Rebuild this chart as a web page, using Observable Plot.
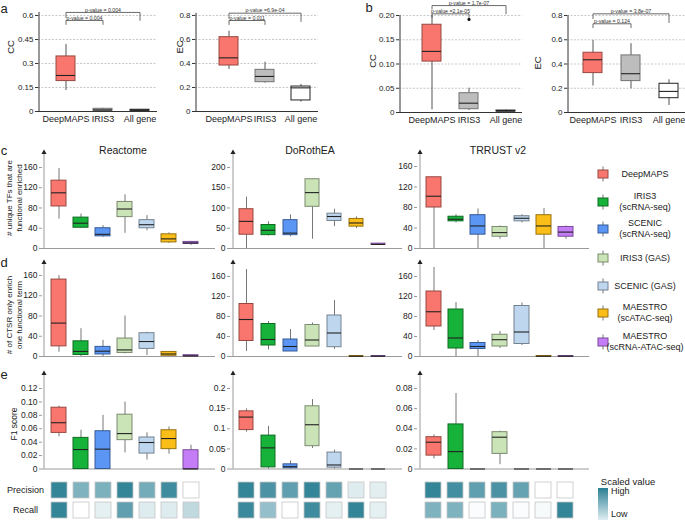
<!DOCTYPE html>
<html><head><meta charset="utf-8">
<script src="https://cdn.jsdelivr.net/npm/d3@7"></script>
<script src="https://cdn.jsdelivr.net/npm/@observablehq/plot@0.6"></script>
<style>
body{margin:0;background:#fff;font-family:"Liberation Sans",Arial,Helvetica,sans-serif;}
#fig{position:relative;width:685px;height:520px;overflow:hidden;background:#fff;}
.box{position:absolute;}
.t{position:absolute;white-space:nowrap;color:#222;text-align:center;transform:translate(-50%,-50%);}
</style></head><body><div id="fig"></div>
<script>
// ---------------- DATA ----------------
const methods = ["DeepMAPS","IRIS3 (scRNA-seq)","SCENIC (scRNA-seq)","IRIS3 (GAS)","SCENIC (GAS)","MAESTRO (scATAC-seq)","MAESTRO (scRNA-ATAC-seq)"];
const methodColors = ["#f8766d","#17b23a","#5b96f4","#cbe4b7","#bfd7ee","#fbbd17","#c57cf7"];
const legendLines = [["DeepMAPS"],["IRIS3","(scRNA-seq)"],["SCENIC","(scRNA-seq)"],["IRIS3 (GAS)"],["SCENIC (GAS)"],["MAESTRO","(scATAC-seq)"],["MAESTRO","(scRNA-ATAC-seq)"]];
const databases = ["Reactome","DoRothEA","TRRUST v2"];
const abGroups = ["DeepMAPS","IRIS3","All gene"];
const abColors = ["#f8766d","#bdbdbd","#ffffff"];
const metrics = ["Precision","Recall"];

// box stats: [min, q1, median, q3, max]
const aCC = [[0.131,0.19,0.225,0.344,0.419],[0.002,0.004,0.01,0.017,0.02],[0.002,0.004,0.008,0.011,0.012]];
const aEC = [[0.35,0.383,0.447,0.619,0.669],[0.236,0.244,0.292,0.347,0.411],[0.078,0.092,0.197,0.208,0.225]];
const bCC = [[0.0055,0.105,0.126,0.181,0.2],[0.004,0.0068,0.0192,0.0398,0.05],[0.001,0.002,0.003,0.004,0.005]];
const bCCOutliers = [{group:"IRIS3", value:0.192}];
const bEC = [[0.218,0.325,0.435,0.493,0.595],[0.196,0.259,0.32,0.471,0.568],[0.058,0.118,0.174,0.237,0.27]];
const aCCTests = [{from:0,to:2,label:"p-value = 0.004"},{from:0,to:1,label:"p-value = 0.004"}];
const aECTests = [{from:0,to:2,label:"p-value =6.9e-04"},{from:0,to:1,label:"p-value = 0.011"}];
const bCCTests = [{from:0,to:2,label:"p-value = 1.7e-07"},{from:0,to:1,label:"p-value =2.1e-05"}];
const bECTests = [{from:0,to:2,label:"p-value = 3.8e-07"},{from:0,to:1,label:"p-value = 0.124"}];

const cReactome = [[58,83,110,134,158],[40,41,50,61,68],[22,24,28,40,45],[30,62,78,92,106],[35,40,47,56,65],[10,12,19,28,31],[6,9,11,13,14]];
const cDoRothEA = [[0,34,67,97,127],[31,33,45,58,66],[29,33,38,70,83],[23,103,138,171,171],[54,68,79,86,97],[49,54,63,73,78],[8,9,10,12,13]];
const cTRRUST = [[0,80,102,139,139],[50,53,57,62,66],[0,27,44,65,77],[18,23,31,42,44],[50,53,59,63,66],[0,27,44,65,78],[18,23,32,42,44]];
const dReactome = [[8.5,20,66,152,160],[0,3,10,30,55],[0,4,10.5,19,32],[5,7,13,35.5,80],[2,15,29.6,46,48],[0,1.4,5,9,10],[0,0.5,1,2.5,3]];
const dDoRothEA = [[10,31,74,105,174],[13,22,34,65,70],[10,10,20,34,54],[20,20,33,63,67],[14,18.6,47,82,112],[0,0,0.5,1,1],[0,0,0.5,1,1]];
const dTRRUST = [[52,60,89.5,130,178],[0,16,37,94,108],[0,15,20,27,31.6],[16,20,33.6,43.5,50],[22,25,49,101,107],[0,0,0.5,1,1],[0,0,0.5,1,1]];
const eReactome = [[0.048,0.0538,0.069,0.0914,0.0938],[0,0,0.029,0.0464,0.0578],[0,0,0.0296,0.0563,0.08],[0.024,0.043,0.0528,0.081,0.0998],[0.0133,0.023,0.0395,0.047,0.054],[0.0222,0.0296,0.0454,0.0578,0.0627],[0,0,0,0.028,0.0355]];
const eDoRothEA = [[0.0917,0.0967,0.129,0.1433,0.149],[0,0.004,0.0525,0.083,0.106],[0,0.0017,0.0058,0.0116,0.02],[0.051,0.0567,0.11,0.1558,0.1725],[0,0.0033,0.01,0.0408,0.047],[0,0,0,0,0],[0,0,0,0,0]];
const eTRRUST = [[0.01,0.0133,0.0266,0.0316,0.034],[0,0,0.0173,0.0443,0.075],[0,0,0,0,0],[0.0043,0.015,0.0316,0.0366,0.0376],[0,0,0,0,0],[0,0,0,0,0],[0,0,0,0,0]];

const precisionReactome = [0.95,0.6,0.62,0.95,0.65,0.9,0.0];
const recallReactome    = [0.95,0.0,0.12,0.75,0.15,0.15,0.3];
const precisionDoRothEA = [0.95,0.85,0.75,0.95,0.72,0.15,0.13];
const recallDoRothEA    = [0.92,0.5,0.0,0.9,0.12,0.95,0.12];
const precisionTRRUST   = [0.95,0.88,0.75,0.85,0.72,0.0,0.0];
const recallTRRUST      = [0.6,0.6,0.02,0.62,0.02,0.04,0.95];

// ---------------- LAYOUT ----------------
const fig = document.getElementById("fig");
const svgStyle = "overflow:visible;background:transparent;font-family:'Liberation Sans',Arial,Helvetica,sans-serif;font-size:8px;color:#222";
const heatLow = "#ffffff", heatHigh = "#2a7f94";
const fmtTrim = d => String(+(+d).toFixed(6));
const fmt2 = d => d === 0 ? "0" : d3.format(".2f")(d);

function place(node, left, top){
  const d = document.createElement("div");
  d.className = "box";
  d.style.left = left + "px"; d.style.top = top + "px";
  d.appendChild(node); fig.appendChild(d); return d;
}
function text(html, x, y, opts={}){
  const d = document.createElement("div");
  d.className = "t";
  d.innerHTML = html;
  d.style.left = x + "px"; d.style.top = y + "px";
  d.style.fontSize = (opts.size || 9) + "px";
  if (opts.lh) d.style.lineHeight = opts.lh + "px";
  if (opts.rotate) d.style.transform = "translate(-50%,-50%) rotate(-90deg)";
  if (opts.align === "left") { d.style.transform = "translate(0,-50%)"; d.style.textAlign = "left"; }
  fig.appendChild(d); return d;
}

function boxPanel(o){
  const width = o.right - o.axisX, height = o.zero - o.top;
  const n = o.cats.length;
  const r0 = o.c0 - o.step/2 - o.axisX;
  const pi = 1 - o.bw/o.step;
  const rows = o.stats.map((s,i)=>({cat:o.cats[i], min:s[0], q1:s[1], med:s[2], q3:s[3], max:s[4],
    fill:o.colors[i], stroke: o.colors[i]==="#ffffff" ? "#222" : d3.color(o.colors[i]).darker(1.4).formatHex()}));
  const dxAxis = -(r0 + o.step/2);
  const marks = [];
  if (o.grid) marks.push(Plot.ruleY(o.ticks.filter(t=>t>0), {stroke:"#b0b0b0", strokeWidth:0.7, strokeDasharray:"2,1.5"}));
  marks.push(Plot.ruleY([0], {stroke:o.axisColor, strokeWidth:1}));
  marks.push(Plot.ruleX([o.cats[0]], {x:d=>d, y1:0, y2:o.axisTop ?? o.domainTop, dx:dxAxis, stroke:o.axisColor, strokeWidth:1}));
  if (o.arrow) marks.push(Plot.dot([o.cats[0]], {x:d=>d, y:o.domainTop, dx:dxAxis, dy:1, symbol:"triangle", r:1.9, fill:"#222", stroke:"none"}));
  marks.push(Plot.ruleX(rows, {x:"cat", y1:"min", y2:"max", stroke:o.whisker, strokeWidth:1}));
  marks.push(Plot.barY(rows, {x:"cat", y1:"q1", y2:"q3", fill:"fill", stroke:"stroke", strokeWidth:1}));
  marks.push(Plot.tickY(rows, {x:"cat", y:"med", stroke:"#222", strokeWidth:1.1}));
  if (o.outliers) marks.push(Plot.dot(o.outliers, {x:"group", y:"value", r:1.6, fill:"#111", stroke:"none"}));
  if (o.tests) o.tests.forEach((b,k)=>{
    const g = o.brackets[k];
    const pts = [{x:o.cats[b.from], y:g.l},{x:o.cats[b.from], y:g.h},{x:o.cats[b.to], y:g.h},{x:o.cats[b.to], y:g.r}];
    marks.push(Plot.line(pts, {x:"x", y:"y", stroke:"#444", strokeWidth:0.8}));
    const mid = (b.from + b.to)/2;
    marks.push(Plot.text([b.label], {x:()=>o.cats[Math.floor(mid)], y:g.h, dx:(mid%1)*o.step, dy:-0.8,
      lineAnchor:"bottom", fontSize:5.2, fill:"#333", text:d=>d}));
  });
  marks.push(Plot.axisY({ticks:o.ticks, tickFormat:o.fmt || fmtTrim, tickSize:3, tickPadding:2, fontSize:o.tickFont, label:null, stroke:o.axisColor}));
  if (o.xLabels) marks.push(Plot.axisX({tickSize:0, tickPadding:4.5, fontSize:9, label:null}));
  const p = Plot.plot({
    width, height, marginTop:0, marginRight:0, marginBottom:0, marginLeft:0,
    style: svgStyle,
    x: {type:"band", domain:o.cats, range:[r0, r0 + n*o.step], paddingInner:pi, paddingOuter:pi/2, align:0.5, axis: o.xLabels ? undefined : null},
    y: {domain:[0, o.domainTop]},
    color: {type:"identity"},
    marks
  });
  place(p, o.axisX, o.top);
}

function heatPanel(o){
  const width = o.right - o.axisX, height = 41;
  const r0 = o.c0 - o.step/2 - o.axisX;
  const pi = 1 - 16.5/o.step;
  const cells = [];
  methods.forEach((m,i)=>{
    cells.push({m, metric:"Precision", v:o.prec[i]});
    cells.push({m, metric:"Recall", v:o.rec[i]});
  });
  const marks = [Plot.cell(cells, {x:"m", y:"metric", fill:"v", stroke:"#c6c6c6", strokeWidth:0.8})];
  if (o.rowLabels) marks.push(Plot.text(metrics, {y:d=>d, text:d=>d, frameAnchor:"left", dx:-17, fontSize:9, textAnchor:"middle", fill:"#222"}));
  const p = Plot.plot({
    width, height, marginTop:0, marginRight:0, marginBottom:0, marginLeft:0,
    style: svgStyle,
    x: {type:"band", domain:methods, range:[r0, r0 + methods.length*o.step], paddingInner:pi, paddingOuter:pi/2, align:0.5, axis:null},
    y: {type:"band", domain:metrics, range:[0, height], paddingInner:4/21, paddingOuter:2/21, axis:null},
    color: {type:"linear", domain:[0,1], range:[heatLow, heatHigh]},
    marks
  });
  place(p, o.axisX, o.top);
}

// ---------- panels a & b ----------
const abCommon = {cats:abGroups, colors:abColors, grid:true, axisColor:"#333", whisker:"#555", tickFont:8, xLabels:true, bw:19};
boxPanel({...abCommon, stats:aCC, tests:aCCTests, axisX:38, right:157, top:2, zero:111, c0:65, step:37,
  domainTop:0.681, axisTop:0.619, ticks:[0,0.15,0.3,0.45,0.6],
  brackets:[{h:0.619,l:0.587,r:0.569},{h:0.569,l:0.544,r:0.544}]});
boxPanel({...abCommon, stats:aEC, tests:aECTests, axisX:195, right:318, top:2, zero:111, c0:228, step:36.5,
  domainTop:0.908, axisTop:0.817, ticks:[0,0.2,0.4,0.6,0.8],
  brackets:[{h:0.819,l:0.775,r:0.75},{h:0.758,l:0.725,r:0.725}]});
boxPanel({...abCommon, stats:bCC, tests:bCCTests, outliers:bCCOutliers, axisX:399, right:522, top:0, zero:112, c0:431, step:37,
  domainTop:0.231, axisTop:0.2, ticks:[0,0.05,0.1,0.15,0.2], fmt:fmt2,
  brackets:[{h:0.2205,l:0.2135,r:0.2035},{h:0.2035,l:0.196,r:0.196}]});
boxPanel({...abCommon, stats:bEC, tests:bECTests, axisX:567, right:685, top:0, zero:112, c0:592, step:38,
  domainTop:0.924, axisTop:0.8, ticks:[0,0.2,0.4,0.6,0.8],
  brackets:[{h:0.814,l:0.775,r:0.742},{h:0.732,l:0.70,r:0.70}]});

// ---------- panels c, d, e ----------
const cols = [
  {axisX:42, right:215, c0:57, step:22.6},
  {axisX:230, right:402, c0:243.5, step:22.8},
  {axisX:417, right:589, c0:431, step:22.7}
];
const rowsLayout = [
  {top:151, zero:248, stats:[cReactome,cDoRothEA,cTRRUST], tops:[191.6,239.5,189.3],
   ticks:[[0,40,80,120,160],[0,50,100,150,200],[0,40,80,120,160]], fmts:[null,null,null]},
  {top:261, zero:356, stats:[dReactome,dDoRothEA,dTRRUST], tops:[187.7,190,190],
   ticks:[[0,40,80,120,160],[0,40,80,120,160],[0,40,80,120,160]], fmts:[null,null,null]},
  {top:372, zero:468.5, stats:[eReactome,eDoRothEA,eTRRUST], tops:[0.1439,0.2398,0.0959],
   ticks:[[0,0.02,0.04,0.06,0.08,0.1,0.12],[0,0.05,0.1,0.15,0.2],[0,0.02,0.04,0.06,0.08]], fmts:[fmt2,null,null]}
];
rowsLayout.forEach(r => cols.forEach((c,j) => {
  boxPanel({cats:methods, colors:methodColors, stats:r.stats[j], axisX:c.axisX, right:c.right, c0:c.c0, step:c.step, bw:15,
    top:r.top, zero:r.zero, domainTop:r.tops[j], ticks:r.ticks[j], fmt:r.fmts[j],
    arrow:true, axisColor:"#9a9a9a", whisker:"#777", tickFont:8.5, grid:false, xLabels:false});
}));
const prec = [precisionReactome, precisionDoRothEA, precisionTRRUST];
const rec = [recallReactome, recallDoRothEA, recallTRRUST];
cols.forEach((c,j) => heatPanel({...c, top:480, prec:prec[j], rec:rec[j], rowLabels:j===0}));

// ---------- text ----------
text("a", 4, 8, {size:13}); text("b", 369, 7, {size:13});
text("c", 4, 150, {size:13}); text("d", 4, 262, {size:13}); text("e", 4, 374, {size:13});
text("CC", 10, 47, {size:9.5, rotate:true}); text("EC", 179, 47, {size:9.5, rotate:true});
text("CC", 372, 61, {size:9.5, rotate:true}); text("EC", 537, 63, {size:9.5, rotate:true});
const titleX = [123, 310, 498];
databases.forEach((db,j)=> text(db, titleX[j], 150, {size:10.5}));
text("# unique TFs that are<br>functional enriched", 15, 198, {size:8, lh:10, rotate:true});
text("# of CTSR only enrich<br>one functional term", 15, 315, {size:8, lh:10, rotate:true});
text("F1 score", 14, 424, {size:8.5, rotate:true});

// legend for methods
const legendY = [174, 202, 229, 258, 286, 313, 342];
methods.forEach((m,i)=>{
  const s = d3.create("svg").attr("width",14).attr("height",16).style("overflow","visible");
  const stroke = d3.color(methodColors[i]).darker(1.4).formatHex();
  s.append("line").attr("x1",7).attr("x2",7).attr("y1",0.5).attr("y2",15.5).attr("stroke","#777").attr("stroke-width",1);
  s.append("rect").attr("x",2).attr("y",4).attr("width",10).attr("height",8).attr("fill",methodColors[i]).attr("stroke",stroke).attr("stroke-width",1);
  place(s.node(), 596, legendY[i]-8);
  text(legendLines[i].join("<br>"), 645, legendY[i], {size:9, lh:11});
});

// heat legend
text("Scaled value", 628, 481, {size:9.5});
const grad = document.createElement("div");
grad.style.cssText = `position:absolute;left:598px;top:488px;width:10px;height:34px;background:linear-gradient(to bottom, ${heatHigh}, #eaf4f7);`;
fig.appendChild(grad);
text("High", 611, 491, {size:9, align:"left"});
text("Low", 611, 514, {size:9, align:"left"});
</script></body></html>
